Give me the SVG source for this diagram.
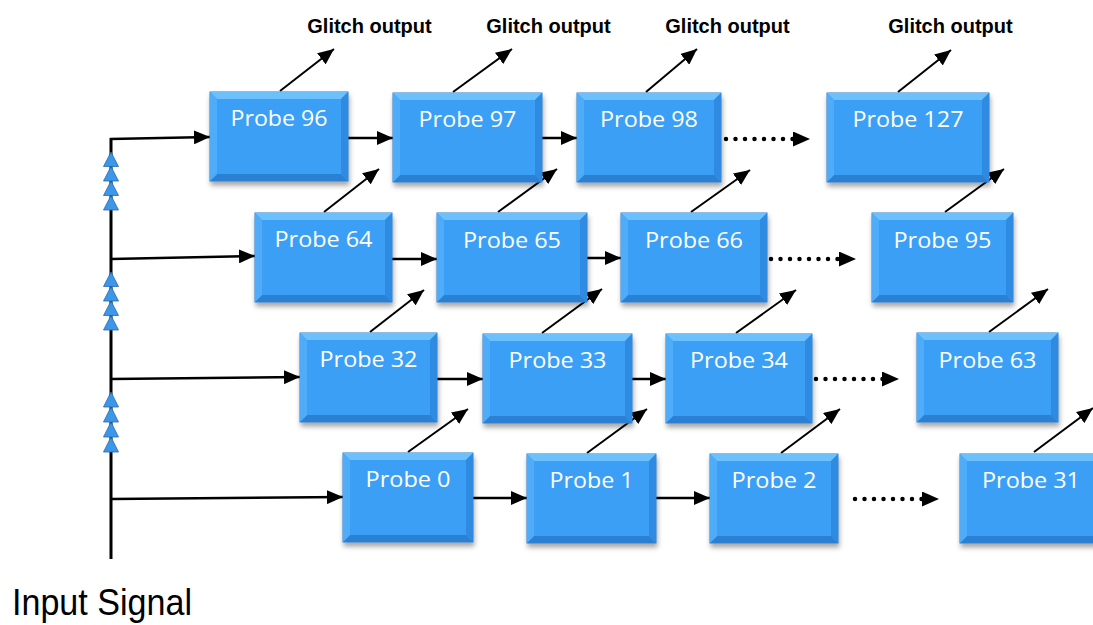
<svg xmlns="http://www.w3.org/2000/svg" width="1093" height="625" viewBox="0 0 1093 625">
<style>
.base{fill:#3a9ff6;stroke:#2d7fcc;stroke-width:1}
.top{fill:#6cc0fb}
.bot{fill:#2c80d3}
.lft{fill:#4eacf8}
.rgt{fill:#2f8ae2}
.lbl{font-family:"Open Sans",sans-serif;font-size:22px;fill:#ffffff;text-anchor:middle}
.glitch{font-family:"Liberation Sans",Arial,sans-serif;font-weight:bold;font-size:20px;fill:#000;text-anchor:middle}
.ln{stroke:#000;stroke-width:2.5;fill:none}
.dg{stroke:#000;stroke-width:2;fill:none}
.dot{stroke:#000;stroke-width:4.5;stroke-linecap:round;stroke-dasharray:0 9.5;fill:none}
.tri{fill:#3d97e8;stroke:#2768ad;stroke-width:0.8}
</style>
<defs>
<filter id="sh" x="-10%" y="-10%" width="120%" height="130%">
<feDropShadow dx="1" dy="4" stdDeviation="2.5" flood-color="#000" flood-opacity="0.35"/>
</filter>
<marker id="ah" markerUnits="userSpaceOnUse" markerWidth="17" markerHeight="14" refX="16" refY="7" orient="auto"><path d="M0,0 L16,7 L0,14 z" fill="#000"/></marker>
<marker id="ahd" markerUnits="userSpaceOnUse" markerWidth="18" markerHeight="15" refX="17" refY="7.5" orient="auto"><path d="M0,0 L17,7.5 L0,15 z" fill="#000"/></marker>
</defs>
<rect width="1093" height="625" fill="#fff"/>

<g id="labels">
<text class="glitch" x="369.5" y="33">Glitch output</text>
<text class="glitch" x="548.5" y="33">Glitch output</text>
<text class="glitch" x="727.5" y="33">Glitch output</text>
<text class="glitch" x="950.5" y="33">Glitch output</text>
<text x="12" y="615" font-family="Liberation Sans, Arial, sans-serif" font-size="36" textLength="180" lengthAdjust="spacingAndGlyphs" fill="#000">Input Signal</text>
</g>

<g id="connectors">
<path class="ln" style="stroke-width:3" d="M111,559 V138"/>
<path class="ln" d="M110,139 L210,137" marker-end="url(#ah)"/>
<path class="ln" d="M111,259 L255,256" marker-end="url(#ah)"/>
<path class="ln" d="M111,379 L300,377" marker-end="url(#ah)"/>
<path class="ln" d="M111,499 L343,497" marker-end="url(#ah)"/>
<path class="ln" d="M348,138 L393,138" marker-end="url(#ah)"/>
<path class="ln" d="M542,138 L577,138" marker-end="url(#ah)"/>
<path class="ln" d="M392,259 L437,259" marker-end="url(#ah)"/>
<path class="ln" d="M587,258 L621,258" marker-end="url(#ah)"/>
<path class="ln" d="M437,379 L483,379" marker-end="url(#ah)"/>
<path class="ln" d="M632,379 L666,379" marker-end="url(#ah)"/>
<path class="ln" d="M473,498 L527,498" marker-end="url(#ah)"/>
<path class="ln" d="M656,498 L710,498" marker-end="url(#ah)"/>
<path class="dot" d="M726,139 L810,139" marker-end="url(#ahd)"/>
<path class="dot" d="M771,259 L856,259" marker-end="url(#ahd)"/>
<path class="dot" d="M816,379 L899,379" marker-end="url(#ahd)"/>
<path class="dot" d="M855,499 L939,499" marker-end="url(#ahd)"/>
<path class="dg" d="M280,91 L334,49" marker-end="url(#ah)"/>
<path class="dg" d="M453,92 L512,49" marker-end="url(#ah)"/>
<path class="dg" d="M646,92 L697,49" marker-end="url(#ah)"/>
<path class="dg" d="M898,92 L951,50" marker-end="url(#ah)"/>
<path class="dg" d="M324,212 L379,169" marker-end="url(#ah)"/>
<path class="dg" d="M498,212 L557,169" marker-end="url(#ah)"/>
<path class="dg" d="M691,212 L750,170" marker-end="url(#ah)"/>
<path class="dg" d="M945,212 L1004,169" marker-end="url(#ah)"/>
<path class="dg" d="M370,332 L424,290" marker-end="url(#ah)"/>
<path class="dg" d="M542,333 L602,289" marker-end="url(#ah)"/>
<path class="dg" d="M736,333 L796,290" marker-end="url(#ah)"/>
<path class="dg" d="M989,332 L1048,289" marker-end="url(#ah)"/>
<path class="dg" d="M408,452 L468,409" marker-end="url(#ah)"/>
<path class="dg" d="M587,453 L647,409" marker-end="url(#ah)"/>
<path class="dg" d="M781,453 L840,409" marker-end="url(#ah)"/>
<path class="dg" d="M1034,452 L1093,408" marker-end="url(#ah)"/>
</g>

<g id="buffers">
<path class="tri" d="M111,152 l7.5,14.5 h-15 z M111,166.5 l7.5,14.5 h-15 z M111,181 l7.5,14.5 h-15 z M111,195.5 l7.5,14.5 h-15 z"/>
<path class="tri" d="M111,272 l7.5,14.5 h-15 z M111,286.5 l7.5,14.5 h-15 z M111,301 l7.5,14.5 h-15 z M111,315.5 l7.5,14.5 h-15 z"/>
<path class="tri" d="M111,392 l7.5,15 h-15 z M111,407 l7.5,15 h-15 z M111,422 l7.5,15 h-15 z M111,437 l7.5,15 h-15 z"/>
</g>

<g id="probe96"><rect class="base" x="210" y="92" width="138" height="89" filter="url(#sh)"/><path class="top" d="M210,92 h138 l-7,7 h-124 z"/><path class="bot" d="M210,181 h138 l-7,-7 h-124 z"/><path class="lft" d="M210,92 l7,7 v75 l-7,7 z"/><path class="rgt" d="M348,92 l-7,7 v75 l7,7 z"/><text class="lbl" x="279" y="126" textLength="97" lengthAdjust="spacingAndGlyphs">Probe 96</text></g>
<g id="probe97"><rect class="base" x="393" y="93" width="149" height="89" filter="url(#sh)"/><path class="top" d="M393,93 h149 l-7,7 h-135 z"/><path class="bot" d="M393,182 h149 l-7,-7 h-135 z"/><path class="lft" d="M393,93 l7,7 v75 l-7,7 z"/><path class="rgt" d="M542,93 l-7,7 v75 l7,7 z"/><text class="lbl" x="467.5" y="127" textLength="98" lengthAdjust="spacingAndGlyphs">Probe 97</text></g>
<g id="probe98"><rect class="base" x="577" y="93" width="144" height="89" filter="url(#sh)"/><path class="top" d="M577,93 h144 l-7,7 h-130 z"/><path class="bot" d="M577,182 h144 l-7,-7 h-130 z"/><path class="lft" d="M577,93 l7,7 v75 l-7,7 z"/><path class="rgt" d="M721,93 l-7,7 v75 l7,7 z"/><text class="lbl" x="649" y="127" textLength="98" lengthAdjust="spacingAndGlyphs">Probe 98</text></g>
<g id="probe127"><rect class="base" x="827" y="93" width="162" height="89" filter="url(#sh)"/><path class="top" d="M827,93 h162 l-7,7 h-148 z"/><path class="bot" d="M827,182 h162 l-7,-7 h-148 z"/><path class="lft" d="M827,93 l7,7 v75 l-7,7 z"/><path class="rgt" d="M989,93 l-7,7 v75 l7,7 z"/><text class="lbl" x="908" y="127" textLength="111" lengthAdjust="spacingAndGlyphs">Probe 127</text></g>

<g id="probe64"><rect class="base" x="255" y="213" width="137" height="89" filter="url(#sh)"/><path class="top" d="M255,213 h137 l-7,7 h-123 z"/><path class="bot" d="M255,302 h137 l-7,-7 h-123 z"/><path class="lft" d="M255,213 l7,7 v75 l-7,7 z"/><path class="rgt" d="M392,213 l-7,7 v75 l7,7 z"/><text class="lbl" x="323.5" y="247" textLength="98" lengthAdjust="spacingAndGlyphs">Probe 64</text></g>
<g id="probe65"><rect class="base" x="437" y="213" width="150" height="89" filter="url(#sh)"/><path class="top" d="M437,213 h150 l-7,7 h-136 z"/><path class="bot" d="M437,302 h150 l-7,-7 h-136 z"/><path class="lft" d="M437,213 l7,7 v75 l-7,7 z"/><path class="rgt" d="M587,213 l-7,7 v75 l7,7 z"/><text class="lbl" x="512" y="248" textLength="98" lengthAdjust="spacingAndGlyphs">Probe 65</text></g>
<g id="probe66"><rect class="base" x="621" y="213" width="146" height="89" filter="url(#sh)"/><path class="top" d="M621,213 h146 l-7,7 h-132 z"/><path class="bot" d="M621,302 h146 l-7,-7 h-132 z"/><path class="lft" d="M621,213 l7,7 v75 l-7,7 z"/><path class="rgt" d="M767,213 l-7,7 v75 l7,7 z"/><text class="lbl" x="694" y="248" textLength="98" lengthAdjust="spacingAndGlyphs">Probe 66</text></g>
<g id="probe95"><rect class="base" x="872" y="213" width="141" height="89" filter="url(#sh)"/><path class="top" d="M872,213 h141 l-7,7 h-127 z"/><path class="bot" d="M872,302 h141 l-7,-7 h-127 z"/><path class="lft" d="M872,213 l7,7 v75 l-7,7 z"/><path class="rgt" d="M1013,213 l-7,7 v75 l7,7 z"/><text class="lbl" x="942.5" y="248" textLength="98" lengthAdjust="spacingAndGlyphs">Probe 95</text></g>

<g id="probe32"><rect class="base" x="300" y="333" width="137" height="89" filter="url(#sh)"/><path class="top" d="M300,333 h137 l-7,7 h-123 z"/><path class="bot" d="M300,422 h137 l-7,-7 h-123 z"/><path class="lft" d="M300,333 l7,7 v75 l-7,7 z"/><path class="rgt" d="M437,333 l-7,7 v75 l7,7 z"/><text class="lbl" x="368.5" y="367" textLength="98" lengthAdjust="spacingAndGlyphs">Probe 32</text></g>
<g id="probe33"><rect class="base" x="483" y="334" width="149" height="89" filter="url(#sh)"/><path class="top" d="M483,334 h149 l-7,7 h-135 z"/><path class="bot" d="M483,423 h149 l-7,-7 h-135 z"/><path class="lft" d="M483,334 l7,7 v75 l-7,7 z"/><path class="rgt" d="M632,334 l-7,7 v75 l7,7 z"/><text class="lbl" x="557.5" y="368" textLength="98" lengthAdjust="spacingAndGlyphs">Probe 33</text></g>
<g id="probe34"><rect class="base" x="666" y="334" width="146" height="89" filter="url(#sh)"/><path class="top" d="M666,334 h146 l-7,7 h-132 z"/><path class="bot" d="M666,423 h146 l-7,-7 h-132 z"/><path class="lft" d="M666,334 l7,7 v75 l-7,7 z"/><path class="rgt" d="M812,334 l-7,7 v75 l7,7 z"/><text class="lbl" x="739" y="368" textLength="98" lengthAdjust="spacingAndGlyphs">Probe 34</text></g>
<g id="probe63"><rect class="base" x="917" y="333" width="141" height="89" filter="url(#sh)"/><path class="top" d="M917,333 h141 l-7,7 h-127 z"/><path class="bot" d="M917,422 h141 l-7,-7 h-127 z"/><path class="lft" d="M917,333 l7,7 v75 l-7,7 z"/><path class="rgt" d="M1058,333 l-7,7 v75 l7,7 z"/><text class="lbl" x="987.5" y="368" textLength="98" lengthAdjust="spacingAndGlyphs">Probe 63</text></g>

<g id="probe0"><rect class="base" x="343" y="453" width="130" height="89" filter="url(#sh)"/><path class="top" d="M343,453 h130 l-7,7 h-116 z"/><path class="bot" d="M343,542 h130 l-7,-7 h-116 z"/><path class="lft" d="M343,453 l7,7 v75 l-7,7 z"/><path class="rgt" d="M473,453 l-7,7 v75 l7,7 z"/><text class="lbl" x="408" y="487" textLength="85" lengthAdjust="spacingAndGlyphs">Probe 0</text></g>
<g id="probe1"><rect class="base" x="527" y="454" width="129" height="89" filter="url(#sh)"/><path class="top" d="M527,454 h129 l-7,7 h-115 z"/><path class="bot" d="M527,543 h129 l-7,-7 h-115 z"/><path class="lft" d="M527,454 l7,7 v75 l-7,7 z"/><path class="rgt" d="M656,454 l-7,7 v75 l7,7 z"/><text class="lbl" x="591.5" y="488" textLength="84" lengthAdjust="spacingAndGlyphs">Probe 1</text></g>
<g id="probe2"><rect class="base" x="710" y="454" width="128" height="89" filter="url(#sh)"/><path class="top" d="M710,454 h128 l-7,7 h-114 z"/><path class="bot" d="M710,543 h128 l-7,-7 h-114 z"/><path class="lft" d="M710,454 l7,7 v75 l-7,7 z"/><path class="rgt" d="M838,454 l-7,7 v75 l7,7 z"/><text class="lbl" x="774" y="488" textLength="85" lengthAdjust="spacingAndGlyphs">Probe 2</text></g>
<g id="probe31"><rect class="base" x="960" y="454" width="145" height="89" filter="url(#sh)"/><path class="top" d="M960,454 h145 l-7,7 h-131 z"/><path class="bot" d="M960,543 h145 l-7,-7 h-131 z"/><path class="lft" d="M960,454 l7,7 v75 l-7,7 z"/><path class="rgt" d="M1105,454 l-7,7 v75 l7,7 z"/><text class="lbl" x="1031" y="488" textLength="98" lengthAdjust="spacingAndGlyphs">Probe 31</text></g>
</svg>
